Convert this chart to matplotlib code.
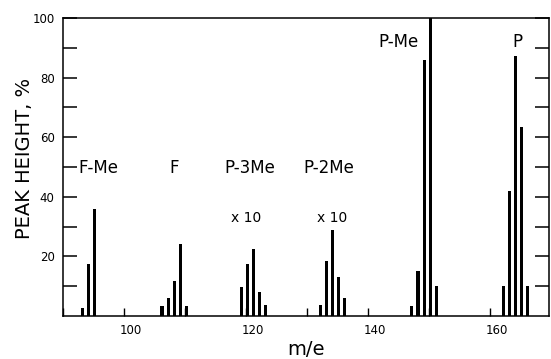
import numpy as np
import matplotlib.pyplot as plt
import matplotlib.transforms as mtransforms

# mass spectrum clusters: m/e and peak height (%)
fme_mass = [93, 94, 95]
fme_height = [2.8, 17.4, 36]

f_mass = [106, 107, 108, 109, 110]
f_height = [3.3, 6, 11.6, 24, 3.3]

p3me_mass = [119, 120, 121, 122, 123]
p3me_height = [9.7, 17.6, 22.5, 8, 3.7]

p2me_mass = [132, 133, 134, 135, 136]
p2me_height = [3.7, 18.3, 29, 13.1, 5.9]

pme_mass = [147, 148, 149, 150, 151]
pme_height = [3.4, 15, 86, 100, 10]

p_mass = [162, 163, 164, 165, 166]
p_height = [10, 42, 87.3, 63.5, 10]

xtick_major = [100, 120, 140, 160]

masses = fme_mass + f_mass + p3me_mass + p2me_mass + pme_mass + p_mass
heights = fme_height + f_height + p3me_height + p2me_height + pme_height + p_height

fig = plt.figure(figsize=(5.51, 3.59), dpi=100)
ax = fig.add_axes([0.1143, 0.1198, 0.9964 - 0.1143, 0.9499 - 0.1198])

# bars in the scan sit a little right of the integer mass
ax.bar(masses, heights, width=0.5, align='edge', color='black')

ax.set_xlim(90.1, 169.75)
ax.set_ylim(0, 100)

ax.set_xticks(np.arange(90, 170, 10), minor=True)
ax.set_xticks(xtick_major)
ax.set_xticklabels([str(v) for v in xtick_major])
ax.set_yticks([20, 40, 60, 80, 100])
ax.set_yticks(np.arange(10, 100, 10), minor=True)

ax.tick_params(axis='both', which='both', direction='in', labelsize=8.5)
ax.tick_params(axis='y', which='both', length=10, width=1.1, right=True, pad=6)
ax.tick_params(axis='x', which='both', length=6, width=1.0, pad=6)

# labels in the scan sit slightly right of their ticks
shift = mtransforms.ScaledTranslation(0.07, 0, fig.dpi_scale_trans)
for lbl in ax.get_xticklabels():
    lbl.set_transform(lbl.get_transform() + shift)

for s in ax.spines.values():
    s.set_linewidth(1.1)

ax.set_xlabel('m/e', fontsize=14, labelpad=2)
ax.set_ylabel('PEAK HEIGHT, %', fontsize=14)
ax.yaxis.set_label_coords(-0.06, 0.53)

lab = dict(fontsize=12, ha='center', va='center')
ax.text(95.8, 49.7, 'F-Me', **lab)
ax.text(108.3, 49.7, 'F', **lab)
ax.text(120.7, 49.7, 'P-3Me', **lab)
ax.text(133.7, 49.7, 'P-2Me', **lab)
ax.text(145.0, 91.8, 'P-Me', **lab)
ax.text(164.5, 91.8, 'P', **lab)
ax.text(120.1, 33, 'x 10', fontsize=10, ha='center', va='center')
ax.text(134.2, 33, 'x 10', fontsize=10, ha='center', va='center')

fig.savefig('out.png', dpi=100)
